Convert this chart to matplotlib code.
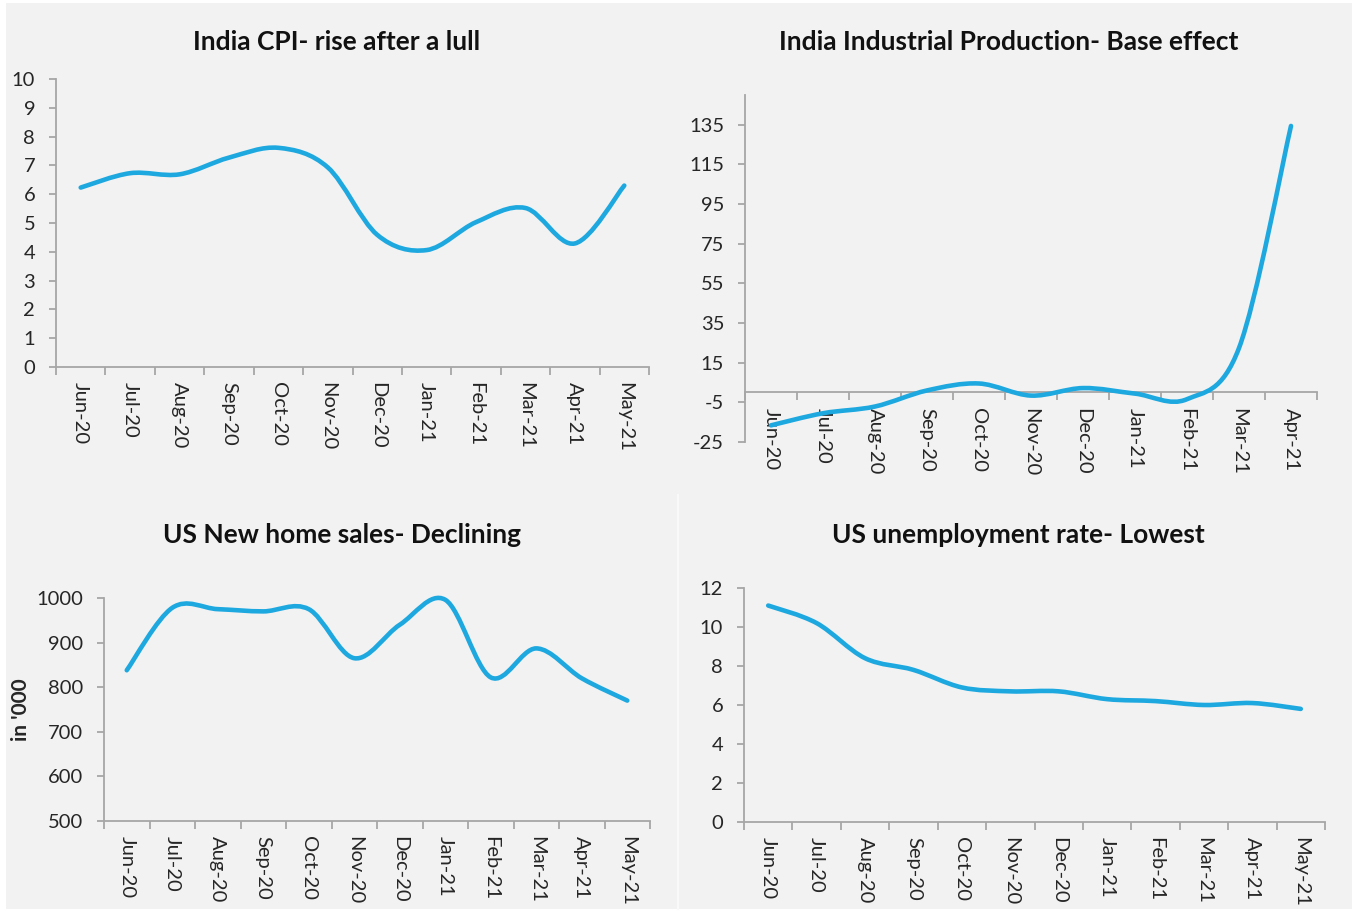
import numpy as np
import matplotlib
matplotlib.use('Agg')
import matplotlib.pyplot as plt
from matplotlib.path import Path
from matplotlib.patches import PathPatch, Rectangle
from matplotlib.lines import Line2D

# ---------------- data ----------------
months = ['Jun-20', 'Jul-20', 'Aug-20', 'Sep-20', 'Oct-20', 'Nov-20',
          'Dec-20', 'Jan-21', 'Feb-21', 'Mar-21', 'Apr-21', 'May-21']
months_iip = months[:11]

india_cpi = [6.23, 6.73, 6.69, 7.27, 7.61, 6.93, 4.59, 4.06, 5.03, 5.52, 4.29, 6.30]
india_iip = [-16.6, -10.5, -7.1, 1.0, 4.5, -1.6, 2.2, -0.6, -3.4, 22.4, 134.4]
us_home_sales = [838, 978, 975, 970, 975, 865, 940, 996, 822, 887, 820, 770]
us_unemployment = [11.1, 10.2, 8.4, 7.8, 6.9, 6.7, 6.7, 6.3, 6.2, 6.0, 6.1, 5.8]

titles = ['India CPI- rise after a lull',
          'India Industrial Production- Base effect',
          'US New home sales- Declining',
          'US unemployment rate- Lowest']

# ---------------- style ----------------
LINE = '#1ea8e0'
AXC = '#a6a6a6'
TXT = '#262626'
BG = '#f2f2f2'
FONT = ['Lato', 'DejaVu Sans']
plt.rcParams['font.family'] = FONT

W, H = 1352, 919
fig = plt.figure(figsize=(W / 100, H / 100), dpi=100)
fig.patch.set_facecolor('white')
fig.add_artist(Rectangle((6 / W, 10 / H), (W - 6) / W, (H - 13) / H,
                         transform=fig.transFigure, facecolor=BG,
                         edgecolor='none', zorder=-10))
fig.add_artist(Line2D([678 / W, 678 / W], [10 / H, (H - 495) / H],
                      transform=fig.transFigure, color='#f9f9f9', lw=1.5,
                      zorder=-9))


def px_axes(left, top, right, bottom):
    return fig.add_axes([left / W, (H - bottom) / H, (right - left) / W,
                         (bottom - top) / H])


def smooth_path(x, y):
    pts = np.column_stack([x, y]).astype(float)
    n = len(pts)
    verts = [pts[0]]
    codes = [Path.MOVETO]
    for i in range(n - 1):
        p0 = pts[i - 1] if i > 0 else pts[i]
        p1 = pts[i]
        p2 = pts[i + 1]
        p3 = pts[i + 2] if i + 2 < n else pts[i + 1]
        c1 = p1 + (p2 - p0) / 6.0
        c2 = p2 - (p3 - p1) / 6.0
        verts += [c1, c2, p2]
        codes += [Path.CURVE4] * 3
    return Path(verts, codes)


def setup(ax, labels, values, ylim, yticks, zero_axis=False):
    n = len(labels)
    x = np.arange(n)
    ax.set_facecolor('none')
    for s in ['top', 'right']:
        ax.spines[s].set_visible(False)
    if zero_axis:
        ax.spines['bottom'].set_position(('data', 0))
    ax.add_patch(PathPatch(smooth_path(x, values), fill=False, edgecolor=LINE,
                           lw=3.3, capstyle='round', joinstyle='round',
                           zorder=3, clip_on=False))
    ax.set_xlim(-0.5, n - 0.5)
    ax.set_ylim(*ylim)
    ax.set_yticks(yticks)
    ax.set_yticklabels([str(v) for v in yticks])
    ax.set_xticks(x)
    ax.set_xticklabels(labels)
    ax.set_xticks(np.arange(n + 1) - 0.5, minor=True)
    for s in ['left', 'bottom']:
        ax.spines[s].set_color(AXC)
        ax.spines[s].set_linewidth(1.3)
    ax.tick_params(axis='x', which='major', length=0, pad=11,
                   labelsize=14.5, labelcolor=TXT, labelrotation=-90)
    ax.tick_params(axis='x', which='minor', length=6, width=1.3, color=AXC,
                   direction='out')
    ax.tick_params(axis='y', which='major', length=5, width=1.3, color=AXC,
                   direction='out', pad=10, labelsize=14.5, labelcolor=TXT)
    for lab in ax.get_xticklabels():
        lab.set_verticalalignment('top')
        lab.set_horizontalalignment('center')
    return ax


# Panel 1
ax1 = px_axes(56, 79, 649, 367)
setup(ax1, months, india_cpi, (0, 10), list(range(0, 11)))

# Panel 2
ax2 = px_axes(745, 95, 1317, 442)
setup(ax2, months_iip, india_iip, (-25, 150), list(range(-25, 136, 20)),
      zero_axis=True)

# Panel 3
ax3 = px_axes(104, 598, 650, 821)
setup(ax3, months, us_home_sales, (500, 1000), list(range(500, 1001, 100)))
ax3.set_ylabel("in '000", fontsize=15, fontweight='bold', color=TXT,
               labelpad=4)

# Panel 4
ax4 = px_axes(744, 588, 1325, 822)
setup(ax4, months, us_unemployment, (0, 12), list(range(0, 13, 2)))

# Titles
title_pos = [(337, 42), (1009, 42), (342, 535), (1018, 535)]
for t, (tx, ty) in zip(titles, title_pos):
    fig.text(tx / W, 1 - ty / H, t, ha='center', va='center',
             fontsize=19, fontweight='bold', color='#111111')

fig.savefig('out.png', dpi=100, facecolor=fig.get_facecolor())
